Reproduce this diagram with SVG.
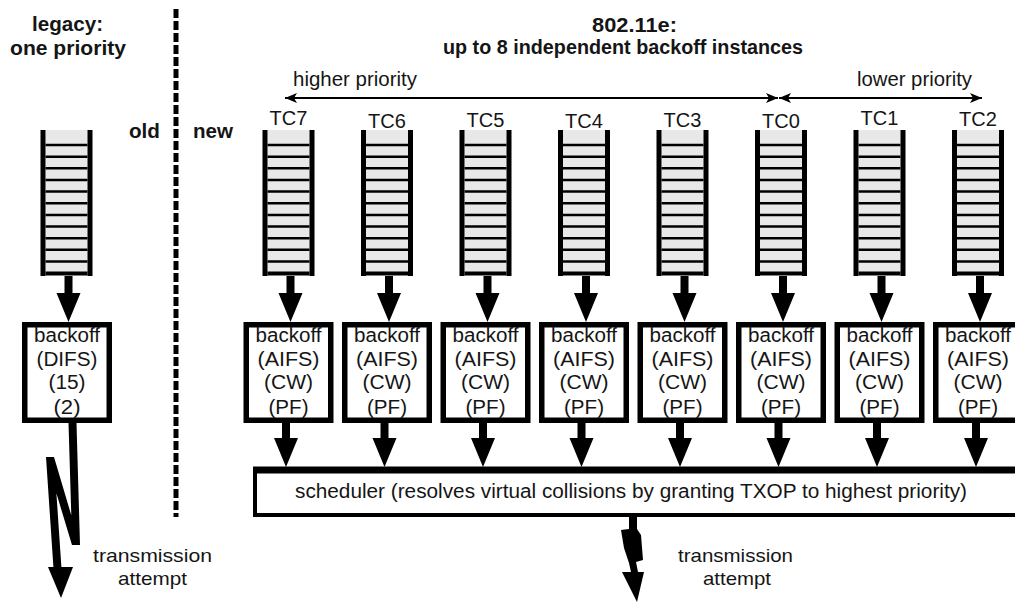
<svg xmlns="http://www.w3.org/2000/svg" xmlns:xlink="http://www.w3.org/1999/xlink" width="1015" height="603" viewBox="0 0 1015 603">
<style>
text{font-family:"Liberation Sans",Arial,Helvetica,sans-serif;fill:#151515;}
.t{font-size:20px;}
.b{font-size:20px;font-weight:bold;}
.tc{font-size:20px;text-anchor:middle;}
.m{text-anchor:middle;}
.box{fill:#fff;stroke:#000;stroke-width:5.5;}
.sch{fill:#fff;stroke:#000;stroke-width:4;}
.blk{fill:#000;}
</style>
<defs>
<g id="q">
<rect x="-21" y="130" width="42" height="145" fill="#e8e8e8"/>
<path d="M-21,145H21M-21,156.65H21M-21,168.3H21M-21,179.95H21M-21,191.6H21M-21,203.25H21M-21,214.9H21M-21,226.55H21M-21,238.2H21M-21,249.85H21M-21,261.5H21" stroke="#000" stroke-width="2.5" fill="none"/>
<path d="M-21,273.5H21" stroke="#000" stroke-width="4"/>
<path d="M-23.5,130V276M23.5,130V276" stroke="#000" stroke-width="5"/>
</g>
<path id="dn" d="M-4,0H4V17H12L0,46L-12,17H-4Z"/>
<marker id="ah" viewBox="0 0 12 10" refX="12" refY="5" markerWidth="12" markerHeight="10" markerUnits="userSpaceOnUse" orient="auto-start-reverse">
<path d="M0,0L12,5L0,10L3,5Z" fill="#000"/>
</marker>
</defs>

<!-- titles and free labels -->
<g id="titles">
<text class="b m" x="67.5" y="31" textLength="71" lengthAdjust="spacingAndGlyphs">legacy:</text>
<text class="b m" x="68" y="55" textLength="116" lengthAdjust="spacingAndGlyphs">one priority</text>
<text class="b m" x="144.5" y="138" textLength="31" lengthAdjust="spacingAndGlyphs">old</text>
<text class="b m" x="213" y="138" textLength="40" lengthAdjust="spacingAndGlyphs">new</text>
<text class="b m" x="634.5" y="31.5" textLength="85" lengthAdjust="spacingAndGlyphs">802.11e:</text>
<text class="b" x="443" y="54" textLength="360" lengthAdjust="spacingAndGlyphs">up to 8 independent backoff instances</text>
<text class="t" x="293" y="86" textLength="124" lengthAdjust="spacingAndGlyphs">higher priority</text>
<text class="t" x="857" y="86" textLength="115" lengthAdjust="spacingAndGlyphs">lower priority</text>
<text class="t" x="93" y="562" textLength="119" lengthAdjust="spacingAndGlyphs" style="font-size:19px">transmission</text>
<text class="t" x="118" y="585" textLength="69" lengthAdjust="spacingAndGlyphs" style="font-size:19px">attempt</text>
<text class="t" x="678" y="562" textLength="115" lengthAdjust="spacingAndGlyphs" style="font-size:19px">transmission</text>
<text class="t" x="703" y="585" textLength="68" lengthAdjust="spacingAndGlyphs" style="font-size:19px">attempt</text>
</g>

<!-- separator -->
<line x1="176" y1="9" x2="176" y2="517" stroke="#000" stroke-width="5" stroke-dasharray="9 3"/>

<!-- legacy nodes -->
<g id="legacy-queue"><use xlink:href="#q" href="#q" transform="translate(66.5,0)"/></g>
<g id="legacy-backoff">
<rect class="box" x="24.75" y="324.75" width="84.5" height="95.5"/>
<text class="t m" x="67" y="342" textLength="66" lengthAdjust="spacingAndGlyphs">backoff</text>
<text class="t m" x="67" y="365.5" textLength="61" lengthAdjust="spacingAndGlyphs">(DIFS)</text>
<text class="t m" x="67" y="389" textLength="37" lengthAdjust="spacingAndGlyphs">(15)</text>
<text class="t m" x="67" y="414" textLength="27" lengthAdjust="spacingAndGlyphs">(2)</text>
</g>

<!-- TC queues with labels -->
<g id="tc7-queue"><text class="tc" x="288.5" y="125">TC7</text><use xlink:href="#q" href="#q" transform="translate(288.5,0)"/></g>
<g id="tc6-queue"><text class="tc" x="387" y="128">TC6</text><use xlink:href="#q" href="#q" transform="translate(387,0)"/></g>
<g id="tc5-queue"><text class="tc" x="485.5" y="126.5">TC5</text><use xlink:href="#q" href="#q" transform="translate(485.5,0)"/></g>
<g id="tc4-queue"><text class="tc" x="584" y="128">TC4</text><use xlink:href="#q" href="#q" transform="translate(584,0)"/></g>
<g id="tc3-queue"><text class="tc" x="682.5" y="127">TC3</text><use xlink:href="#q" href="#q" transform="translate(682.5,0)"/></g>
<g id="tc0-queue"><text class="tc" x="781" y="128">TC0</text><use xlink:href="#q" href="#q" transform="translate(781,0)"/></g>
<g id="tc1-queue"><text class="tc" x="879.5" y="125">TC1</text><use xlink:href="#q" href="#q" transform="translate(879.5,0)"/></g>
<g id="tc2-queue"><text class="tc" x="978" y="126">TC2</text><use xlink:href="#q" href="#q" transform="translate(978,0)"/></g>

<!-- TC backoff boxes -->
<g id="tc7-backoff"><rect class="box" x="246.25" y="324.75" width="84.5" height="95.5"/>
<text class="t m" x="288.5" y="342" textLength="66" lengthAdjust="spacingAndGlyphs">backoff</text><text class="t m" x="288.5" y="365.5" textLength="62" lengthAdjust="spacingAndGlyphs">(AIFS)</text><text class="t m" x="288.5" y="389" textLength="49" lengthAdjust="spacingAndGlyphs">(CW)</text><text class="t m" x="288.5" y="414" textLength="40" lengthAdjust="spacingAndGlyphs">(PF)</text></g>
<g id="tc6-backoff"><rect class="box" x="344.75" y="324.75" width="84.5" height="95.5"/>
<text class="t m" x="387" y="342" textLength="66" lengthAdjust="spacingAndGlyphs">backoff</text><text class="t m" x="387" y="365.5" textLength="62" lengthAdjust="spacingAndGlyphs">(AIFS)</text><text class="t m" x="387" y="389" textLength="49" lengthAdjust="spacingAndGlyphs">(CW)</text><text class="t m" x="387" y="414" textLength="40" lengthAdjust="spacingAndGlyphs">(PF)</text></g>
<g id="tc5-backoff"><rect class="box" x="443.25" y="324.75" width="84.5" height="95.5"/>
<text class="t m" x="485.5" y="342" textLength="66" lengthAdjust="spacingAndGlyphs">backoff</text><text class="t m" x="485.5" y="365.5" textLength="62" lengthAdjust="spacingAndGlyphs">(AIFS)</text><text class="t m" x="485.5" y="389" textLength="49" lengthAdjust="spacingAndGlyphs">(CW)</text><text class="t m" x="485.5" y="414" textLength="40" lengthAdjust="spacingAndGlyphs">(PF)</text></g>
<g id="tc4-backoff"><rect class="box" x="541.75" y="324.75" width="84.5" height="95.5"/>
<text class="t m" x="584" y="342" textLength="66" lengthAdjust="spacingAndGlyphs">backoff</text><text class="t m" x="584" y="365.5" textLength="62" lengthAdjust="spacingAndGlyphs">(AIFS)</text><text class="t m" x="584" y="389" textLength="49" lengthAdjust="spacingAndGlyphs">(CW)</text><text class="t m" x="584" y="414" textLength="40" lengthAdjust="spacingAndGlyphs">(PF)</text></g>
<g id="tc3-backoff"><rect class="box" x="640.25" y="324.75" width="84.5" height="95.5"/>
<text class="t m" x="682.5" y="342" textLength="66" lengthAdjust="spacingAndGlyphs">backoff</text><text class="t m" x="682.5" y="365.5" textLength="62" lengthAdjust="spacingAndGlyphs">(AIFS)</text><text class="t m" x="682.5" y="389" textLength="49" lengthAdjust="spacingAndGlyphs">(CW)</text><text class="t m" x="682.5" y="414" textLength="40" lengthAdjust="spacingAndGlyphs">(PF)</text></g>
<g id="tc0-backoff"><rect class="box" x="738.75" y="324.75" width="84.5" height="95.5"/>
<text class="t m" x="781" y="342" textLength="66" lengthAdjust="spacingAndGlyphs">backoff</text><text class="t m" x="781" y="365.5" textLength="62" lengthAdjust="spacingAndGlyphs">(AIFS)</text><text class="t m" x="781" y="389" textLength="49" lengthAdjust="spacingAndGlyphs">(CW)</text><text class="t m" x="781" y="414" textLength="40" lengthAdjust="spacingAndGlyphs">(PF)</text></g>
<g id="tc1-backoff"><rect class="box" x="837.25" y="324.75" width="84.5" height="95.5"/>
<text class="t m" x="879.5" y="342" textLength="66" lengthAdjust="spacingAndGlyphs">backoff</text><text class="t m" x="879.5" y="365.5" textLength="62" lengthAdjust="spacingAndGlyphs">(AIFS)</text><text class="t m" x="879.5" y="389" textLength="49" lengthAdjust="spacingAndGlyphs">(CW)</text><text class="t m" x="879.5" y="414" textLength="40" lengthAdjust="spacingAndGlyphs">(PF)</text></g>
<g id="tc2-backoff"><rect class="box" x="935.75" y="324.75" width="84.5" height="95.5"/>
<text class="t m" x="978" y="342" textLength="66" lengthAdjust="spacingAndGlyphs">backoff</text><text class="t m" x="978" y="365.5" textLength="62" lengthAdjust="spacingAndGlyphs">(AIFS)</text><text class="t m" x="978" y="389" textLength="49" lengthAdjust="spacingAndGlyphs">(CW)</text><text class="t m" x="978" y="414" textLength="40" lengthAdjust="spacingAndGlyphs">(PF)</text></g>

<!-- scheduler -->
<g id="scheduler">
<rect class="sch" x="255" y="469" width="790" height="46"/>
<line x1="253" y1="470" x2="1040" y2="470" stroke="#000" stroke-width="7"/>
<text class="t" x="295" y="498" textLength="672" lengthAdjust="spacingAndGlyphs">scheduler (resolves virtual collisions by granting TXOP to highest priority)</text>
</g>

<!-- connectors -->
<g id="connectors">
<line x1="285" y1="98" x2="778" y2="98" stroke="#000" stroke-width="2" marker-start="url(#ah)" marker-end="url(#ah)"/>
<line x1="779" y1="98" x2="982" y2="98" stroke="#000" stroke-width="2" marker-start="url(#ah)" marker-end="url(#ah)"/>
<use xlink:href="#dn" href="#dn" transform="translate(68.5,276)"/>
<use xlink:href="#dn" href="#dn" transform="translate(290.5,276)"/>
<use xlink:href="#dn" href="#dn" transform="translate(389,276)"/>
<use xlink:href="#dn" href="#dn" transform="translate(487.5,276)"/>
<use xlink:href="#dn" href="#dn" transform="translate(586,276)"/>
<use xlink:href="#dn" href="#dn" transform="translate(684.5,276)"/>
<use xlink:href="#dn" href="#dn" transform="translate(783,276)"/>
<use xlink:href="#dn" href="#dn" transform="translate(881.5,276)"/>
<use xlink:href="#dn" href="#dn" transform="translate(980,276)"/>
<use xlink:href="#dn" href="#dn" transform="translate(286,421)"/>
<use xlink:href="#dn" href="#dn" transform="translate(384.5,421)"/>
<use xlink:href="#dn" href="#dn" transform="translate(483,421)"/>
<use xlink:href="#dn" href="#dn" transform="translate(581.5,421)"/>
<use xlink:href="#dn" href="#dn" transform="translate(680,421)"/>
<use xlink:href="#dn" href="#dn" transform="translate(778.5,421)"/>
<use xlink:href="#dn" href="#dn" transform="translate(877,421)"/>
<use xlink:href="#dn" href="#dn" transform="translate(976,421)"/>
<path class="blk" d="M68.5,423L76.5,423L80,545L72,545L56.4,493.3L61.4,567L73,567L61,598L48,567L53.4,567L46,457L54,457L71.3,515.3Z"/>
<path class="blk" d="M629,517L637,517L637,529L641,535L643,560L636,562L638,572L644,572L637,602L622,572L631,572L629,563L624,548L621,530L629,529Z"/>
</g>
</svg>
